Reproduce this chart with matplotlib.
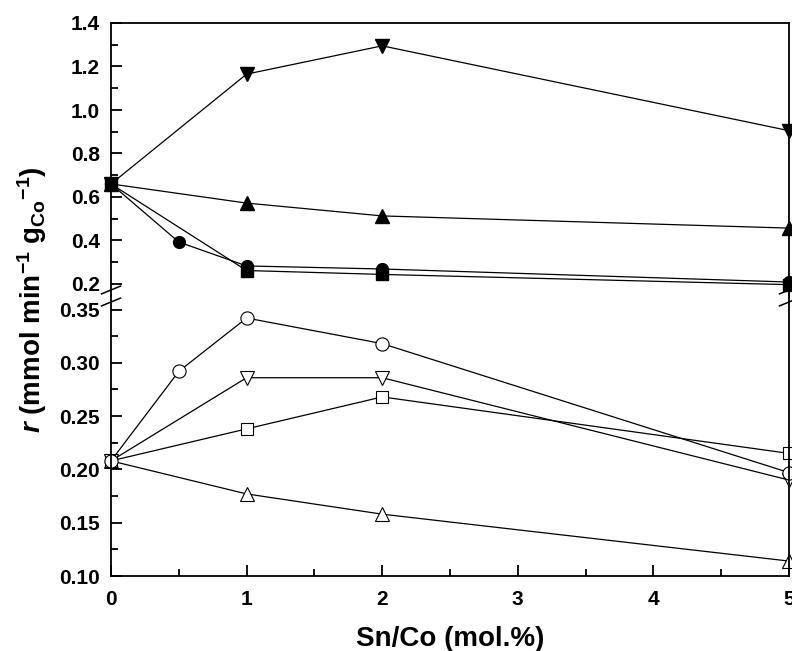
import matplotlib
matplotlib.use('Agg')
import matplotlib.pyplot as plt
from matplotlib.ticker import MultipleLocator

plt.rcParams['font.family'] = 'Liberation Sans'
plt.rcParams['font.weight'] = 'bold'
plt.rcParams['mathtext.fontset'] = 'custom'
plt.rcParams['mathtext.rm'] = 'Liberation Sans:bold'
plt.rcParams['mathtext.it'] = 'Liberation Sans:bold:italic'
plt.rcParams['mathtext.bf'] = 'Liberation Sans:bold'

# ---- data (Sn/Co mol.%) ----
# upper panel, filled symbols
x_dtri_f = [0, 1, 2, 5]
y_dtri_f = [0.66, 1.165, 1.295, 0.905]
x_utri_f = [0, 1, 2, 5]
y_utri_f = [0.66, 0.572, 0.513, 0.457]
x_circ_f = [0, 0.5, 1, 2, 5]
y_circ_f = [0.66, 0.393, 0.283, 0.269, 0.209]
x_sq_f = [0, 1, 2, 5]
y_sq_f = [0.66, 0.262, 0.244, 0.197]

# lower panel, open symbols
x_circ_o = [0, 0.5, 1, 2, 5]
y_circ_o = [0.208, 0.292, 0.342, 0.318, 0.197]
x_dtri_o = [0, 1, 2, 5]
y_dtri_o = [0.208, 0.286, 0.286, 0.190]
x_sq_o = [0, 1, 2, 5]
y_sq_o = [0.208, 0.238, 0.268, 0.215]
x_utri_o = [0, 1, 2, 5]
y_utri_o = [0.208, 0.177, 0.158, 0.114]

fig = plt.figure(figsize=(7.92, 6.51), dpi=100)
L, R = 111/792, 789/792
ytop, ymid, ybot = 23/651, 296/651, 576/651
ax1 = fig.add_axes([L, 1-ymid, R-L, ymid-ytop])
ax2 = fig.add_axes([L, 1-ybot, R-L, ybot-ymid], sharex=ax1)

kw = dict(color='k', lw=0.9, clip_on=False)
ax1.plot(x_dtri_f, y_dtri_f, marker='v', ms=10, mfc='k', mec='k', **kw)
ax1.plot(x_utri_f, y_utri_f, marker='^', ms=10, mfc='k', mec='k', **kw)
ax1.plot(x_sq_f, y_sq_f, marker='s', ms=8, mfc='k', mec='k', **kw)
ax1.plot(x_circ_f, y_circ_f, marker='o', ms=8.5, mfc='k', mec='k', **kw)

ax2.plot(x_utri_o, y_utri_o, marker='^', ms=10, mfc='white', mec='k', mew=0.8, **kw)
ax2.plot(x_sq_o, y_sq_o, marker='s', ms=8, mfc='white', mec='k', mew=0.8, **kw)
ax2.plot(x_dtri_o, y_dtri_o, marker='v', ms=10, mfc='white', mec='k', mew=0.8, **kw)
ax2.plot(x_circ_o, y_circ_o, marker='o', ms=9.5, mfc='white', mec='k', mew=0.8, **kw)

ax1.set_xlim(0, 5)
ax1.set_ylim(1.4 - 273/217.5, 1.4)
ax2.set_ylim(0.10, 0.10 + 280/1066)

for ax in (ax1, ax2):
    for s in ax.spines.values():
        s.set_linewidth(1.3)
    ax.tick_params(direction='in', which='both', labelsize=15, width=1.3,
                   top=False, right=False)
    ax.tick_params(which='major', length=8)
    ax.tick_params(which='minor', length=5)
    ax.tick_params(axis='y', pad=8)
ax1.spines['bottom'].set_visible(False)
ax2.spines['top'].set_visible(False)
ax1.tick_params(axis='x', which='both', bottom=False, labelbottom=False)

ax1.yaxis.set_major_locator(MultipleLocator(0.2))
ax1.yaxis.set_minor_locator(MultipleLocator(0.1))
ax1.yaxis.set_major_formatter(plt.FormatStrFormatter('%.1f'))
ax2.yaxis.set_major_locator(MultipleLocator(0.05))
ax2.yaxis.set_minor_locator(MultipleLocator(0.025))
ax2.yaxis.set_major_formatter(plt.FormatStrFormatter('%.2f'))
ax2.xaxis.set_major_locator(MultipleLocator(1))
ax2.xaxis.set_minor_locator(MultipleLocator(0.5))
ax2.tick_params(axis='x', pad=10)

# break marks on both sides
for xf in (L, R):
    for yy in (290, 302):
        yf = 1 - yy/651
        fig.add_artist(plt.Line2D([xf - 0.012, xf + 0.012], [yf - 0.006, yf + 0.006],
                                  color='k', lw=1.1))

ax2.set_xlabel('Sn/Co (mol.%)', fontsize=20, fontweight='bold', labelpad=12)
fig.text(0.040, 1 - 300/651, r'$\mathit{r}$ (mmol min$^{-1}$ g$_{\mathrm{Co}}$$^{-1}$)',
         rotation=90, ha='center', va='center', fontsize=20, fontweight='bold')

fig.savefig('out.png', dpi=100)
